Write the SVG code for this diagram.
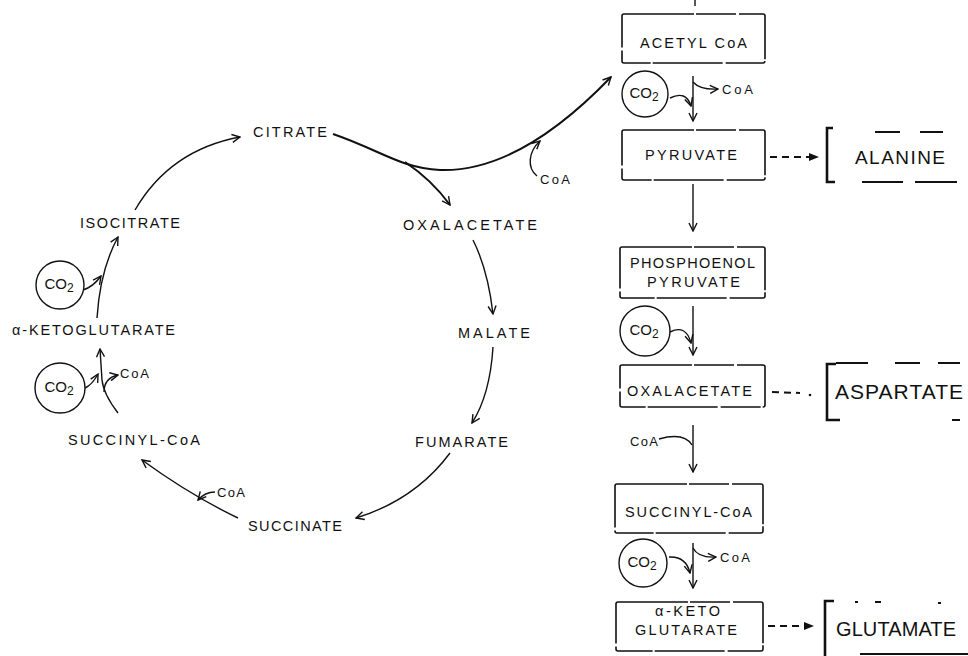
<svg xmlns="http://www.w3.org/2000/svg" width="968" height="656" viewBox="0 0 968 656">
  <style>
    .t { font-family: "Liberation Sans", Arial, sans-serif; font-size: 14.5px; fill: #111; dominant-baseline: central; }
    .s { font-size: 13px; }
    .c { font-size: 15px; }
    .a18 { font-size: 19px; }
    .a20 { font-size: 20px; }
    .a21 { font-size: 21px; }
    .box { fill: none; stroke: #111; stroke-width: 1.6; stroke-dasharray: 70 2 40 3; }
    .ln { fill: none; stroke: #111; stroke-width: 1.4; }
    .hv { stroke-width: 2; }
    .ring { fill: none; stroke: #111; stroke-width: 1.4; }
    .dash { fill: none; stroke: #111; stroke-width: 2; stroke-dasharray: 7 5; }
    .brk { fill: none; stroke: #111; stroke-width: 2.6; }
    .rule { fill: none; stroke: #111; stroke-width: 2.2; }
  </style>
  <defs>
    <marker id="open" viewBox="0 0 10 10" refX="9" refY="5" markerWidth="10" markerHeight="10" markerUnits="userSpaceOnUse" orient="auto">
      <path d="M1,1 L9,5 L1,9" fill="none" stroke="#111" stroke-width="1.4"/>
    </marker>
    <marker id="solid" viewBox="0 0 10 10" refX="9" refY="5" markerWidth="10" markerHeight="10" markerUnits="userSpaceOnUse" orient="auto">
      <path d="M0,1 L10,5 L0,9 Z" fill="#111"/>
    </marker>
  </defs>
  <rect width="968" height="656" fill="#fff"/>

  <!-- connectors -->
  <g id="connectors">
    <!-- cycle -->
    <path class="ln" d="M135,210 Q170,150 240,137" marker-end="url(#open)"/>
    <path class="ln hv" d="M333,134 C380,150 400,168 440,170 C500,172 560,130 611,77" marker-end="url(#open)"/>
    <path class="ln hv" d="M405,162 Q432,180 450,205" marker-end="url(#open)"/>
    <path class="ln" d="M537,176 C527,168 528,152 540,141" marker-end="url(#open)"/>
    <path class="ln" d="M473,240 Q488,270 493,314" marker-end="url(#open)"/>
    <path class="ln" d="M493,347 Q490,395 472,423" marker-end="url(#open)"/>
    <path class="ln" d="M450,453 Q415,500 356,518" marker-end="url(#open)"/>
    <path class="ln" d="M238,518 Q190,495 142,460" marker-end="url(#open)"/>
    <path class="ln" d="M215,492 Q205,492 198,500" marker-end="url(#open)"/>
    <path class="ln" d="M118,413 C108,400 103,390 102,380 L100,349" marker-end="url(#open)"/>
    <path class="ln" d="M104,392 Q104,378 118,375" marker-end="url(#open)"/>
    <path class="ln" d="M85,388 Q92,385 98,374" marker-end="url(#open)"/>
    <path class="ln" d="M97,318 Q100,270 118,237" marker-end="url(#open)"/>
    <path class="ln" d="M83,290 Q93,287 101,276" marker-end="url(#open)"/>

    <!-- linear pathway -->
    <path class="ln" d="M695,0 L695,6"/>
    <path class="ln" d="M693,76 L693,121" marker-end="url(#open)"/>
    <path class="ln" d="M693,82 Q700,90 718,89" marker-end="url(#open)"/>
    <path class="ln" d="M670,98 Q686,90 691,106" marker-end="url(#open)"/>
    <path class="ln" d="M693,184 L693,231" marker-end="url(#open)"/>
    <path class="ln" d="M693,306 L693,355" marker-end="url(#open)"/>
    <path class="ln" d="M670,332 Q686,324 691,343" marker-end="url(#open)"/>
    <path class="ln" d="M693,425 L693,472" marker-end="url(#open)"/>
    <path class="ln" d="M659,439 Q684,432 692,445"/>
    <path class="ln" d="M693,543 L693,588" marker-end="url(#open)"/>
    <path class="ln" d="M693,548 Q698,558 716,557" marker-end="url(#open)"/>
    <path class="ln" d="M669,557 Q686,556 690,573" marker-end="url(#open)"/>

    <!-- to amino acids -->
    <path class="dash" d="M770,157 L818,157" marker-end="url(#solid)"/>
    <path class="dash" d="M772,392 L800,393"/>
    <circle cx="810" cy="395" r="1.3" fill="#111"/>
    <path class="dash" d="M768,626 L813,626" stroke-dasharray="10 3" marker-end="url(#solid)"/>
  </g>

  <!-- cycle intermediates -->
  <g id="citrate"><text class="t" x="253" y="132" textLength="74" lengthAdjust="spacing">CITRATE</text></g>
  <g id="isocitrate"><text class="t" x="80" y="223" textLength="100" lengthAdjust="spacing">ISOCITRATE</text></g>
  <g id="oxalacetate-cycle"><text class="t" x="403" y="225" textLength="134" lengthAdjust="spacing">OXALACETATE</text></g>
  <g id="malate"><text class="t" x="458" y="333" textLength="72" lengthAdjust="spacing">MALATE</text></g>
  <g id="fumarate"><text class="t" x="415" y="442" textLength="93" lengthAdjust="spacing">FUMARATE</text></g>
  <g id="succinate"><text class="t" x="248" y="526" textLength="94" lengthAdjust="spacing">SUCCINATE</text></g>
  <g id="succinyl-coa-cycle"><text class="t" x="68" y="440" textLength="132" lengthAdjust="spacing">SUCCINYL-CoA</text></g>
  <g id="ketoglutarate-cycle"><text class="t" x="12" y="330" textLength="163" lengthAdjust="spacing">α-KETOGLUTARATE</text></g>
  <g id="coa-1"><text class="t s" x="540" y="179" textLength="30" lengthAdjust="spacing">CoA</text></g>
  <g id="coa-2"><text class="t s" x="120" y="373" textLength="29" lengthAdjust="spacing">CoA</text></g>
  <g id="coa-3"><text class="t s" x="217" y="492" textLength="28" lengthAdjust="spacing">CoA</text></g>
  <g id="co2-a">
    <circle class="ring" cx="60" cy="285" r="24"/>
    <text class="t c" x="59" y="283" text-anchor="middle">CO<tspan dy="5" font-size="12">2</tspan></text>
  </g>
  <g id="co2-b">
    <circle class="ring" cx="60" cy="388" r="25"/>
    <text class="t c" x="59" y="386" text-anchor="middle">CO<tspan dy="5" font-size="12">2</tspan></text>
  </g>

  <!-- linear pathway -->
  <g id="acetyl-coa">
    <rect class="box" x="622" y="14" width="143" height="49" rx="2"/>
    <text class="t" x="640" y="43" textLength="107" lengthAdjust="spacing">ACETYL CoA</text>
  </g>
  <g id="co2-1">
    <circle class="ring" cx="645" cy="94" r="23"/>
    <text class="t c" x="644" y="92" text-anchor="middle">CO<tspan dy="5" font-size="12">2</tspan></text>
  </g>
  <g id="coa-4"><text class="t s" x="722" y="89" textLength="31" lengthAdjust="spacing">CoA</text></g>
  <g id="pyruvate">
    <rect class="box" x="622" y="130" width="143" height="50" rx="2"/>
    <text class="t" x="645" y="155" textLength="92" lengthAdjust="spacing">PYRUVATE</text>
  </g>
  <g id="pep">
    <rect class="box" x="620" y="247" width="145" height="51" rx="2"/>
    <text class="t" x="630" y="263" textLength="125" lengthAdjust="spacing">PHOSPHOENOL</text>
    <text class="t" x="647" y="282" textLength="93" lengthAdjust="spacing">PYRUVATE</text>
  </g>
  <g id="co2-2">
    <circle class="ring" cx="645" cy="331" r="25"/>
    <text class="t c" x="644" y="329" text-anchor="middle">CO<tspan dy="5" font-size="12">2</tspan></text>
  </g>
  <g id="oxalacetate">
    <rect class="box" x="620" y="365" width="145" height="42" rx="2"/>
    <text class="t" x="627" y="391" textLength="125" lengthAdjust="spacing">OXALACETATE</text>
  </g>
  <g id="coa-5"><text class="t s" x="630" y="441" textLength="28" lengthAdjust="spacing">CoA</text></g>
  <g id="succinyl-coa">
    <rect class="box" x="615" y="484" width="148" height="49" rx="2"/>
    <text class="t" x="625" y="512" textLength="127" lengthAdjust="spacing">SUCCINYL-CoA</text>
  </g>
  <g id="co2-3">
    <circle class="ring" cx="643" cy="563" r="24"/>
    <text class="t c" x="642" y="561" text-anchor="middle">CO<tspan dy="5" font-size="12">2</tspan></text>
  </g>
  <g id="coa-6"><text class="t s" x="720" y="557" textLength="30" lengthAdjust="spacing">CoA</text></g>
  <g id="ketoglutarate">
    <rect class="box" x="616" y="602" width="147" height="49" rx="2"/>
    <text class="t" x="655" y="611" textLength="65" lengthAdjust="spacing">α-KETO</text>
    <text class="t" x="635" y="630" textLength="102" lengthAdjust="spacing">GLUTARATE</text>
  </g>

  <!-- amino acids -->
  <g id="alanine">
    <path class="brk" d="M833,128 L827,128 L827,182 L835,182"/>
    <path class="rule" d="M875,132 L900,132 M920,132 L943,132 M862,182 L903,182 M915,182 L957,182"/>
    <text class="t a18" x="855" y="157" textLength="90" lengthAdjust="spacing">ALANINE</text>
  </g>
  <g id="aspartate">
    <path class="brk" d="M836,364 L827,364 L827,420 L840,420"/>
    <path class="rule" d="M836,363 L868,363 M895,363 L920,363 M938,363 L960,363 M952,420 L960,420"/>
    <text class="t a21" x="835" y="391" textLength="128" lengthAdjust="spacing">ASPARTATE</text>
  </g>
  <g id="glutamate">
    <path class="brk" d="M834,601 L825,601 L825,656"/>
    <path class="rule" d="M855,602 L858,602 M875,602 L881,602 M938,603 L941,603 M860,654 L968,654"/>
    <text class="t a20" x="836" y="629" textLength="120" lengthAdjust="spacing">GLUTAMATE</text>
  </g>
</svg>
